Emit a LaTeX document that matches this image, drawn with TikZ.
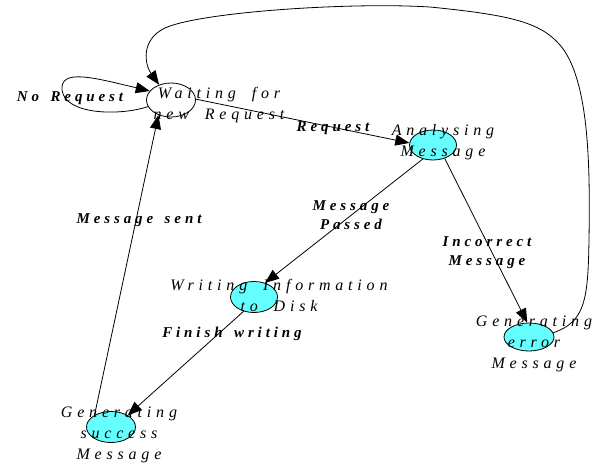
\documentclass[tikz,border=0pt]{standalone}
\usepackage{fontspec}
\setmainfont{Liberation Serif}
\newfontfamily\lsfont[LetterSpace=30,WordSpace=1.8]{Liberation Serif}
\newfontfamily\lsbfont[LetterSpace=26,WordSpace=1.5]{Liberation Serif}
\usetikzlibrary{arrows.meta,shapes.geometric}
\definecolor{nodecyan}{RGB}{102,255,255}
\tikzset{
 st/.style={ellipse, draw, line width=0.8pt, fill=nodecyan, inner sep=0pt},
 nt/.style={font=\lsfont\itshape\fontsize{16}{21}\selectfont, align=center, inner sep=0pt},
 et/.style={font=\lsbfont\bfseries\itshape\fontsize{15}{19}\selectfont, align=center, inner sep=0pt},
 arr/.style={line width=0.8pt, -{Triangle[length=14pt,width=11pt]}},
}
\begin{document}
\begin{tikzpicture}[x=1pt,y=-1pt]
\useasboundingbox (0,0) rectangle (592,467);
% states
\node[st, fill=white, minimum width=49pt, minimum height=34pt] (wait) at (171,100) {};
\node[st, minimum width=47pt, minimum height=30pt] (ana) at (433,145) {};
\node[st, minimum width=47pt, minimum height=31pt] (wri) at (254,297) {};
\node[st, minimum width=49pt, minimum height=31pt] (suc) at (111,427) {};
\node[st, minimum width=50pt, minimum height=28pt] (err) at (529,337) {};
% state texts
\node[nt] (waitT) at (219,105) {Waiting for\\new Request};
\node[nt] (anaT) at (443,142) {Analysing\\Message};
\node[nt] (wriT) at (279,295) {Writing Information\\to Disk};
\node[nt] (sucT) at (119,435) {Generating\\success\\Message};
\node[nt] (errT) at (534,344) {Generating\\error\\Message};
% edge labels
\node[et] (l1) at (70,98) {No Request};
\node[et] (l2) at (333,128) {Request};
\node[et] (l3) at (351,215) {Message\\Passed};
\node[et] (l4) at (487,253) {Incorrect\\Message};
\node[et] (l5) at (232,334) {Finish writing};
\node[et] (l6) at (139,220) {Message sent};
% edges
\draw[arr] (wait.196) .. controls (120,116) and (65,115) .. (62,90)
  .. controls (60,68) and (95,78) .. (wait.157);
\draw[arr] (wait.2) -- (ana.175);
\draw[arr] (ana.234) -- (wri.52);
\draw[arr] (ana.311) -- (err.97);
\draw[arr] (wri.234) -- (suc.35);
\draw[arr] (suc.144) -- (wait.230);
\draw[arr] (err.10) .. controls (585,322) and (588,300) .. (589,240)
  .. controls (590,170) and (590,80) .. (560,45)
  .. controls (540,22) and (510,15) .. (430,7)
  .. controls (350,2) and (200,12) .. (165,28)
  .. controls (140,40) and (145,65) .. (wait.128);
\end{tikzpicture}
\end{document}
